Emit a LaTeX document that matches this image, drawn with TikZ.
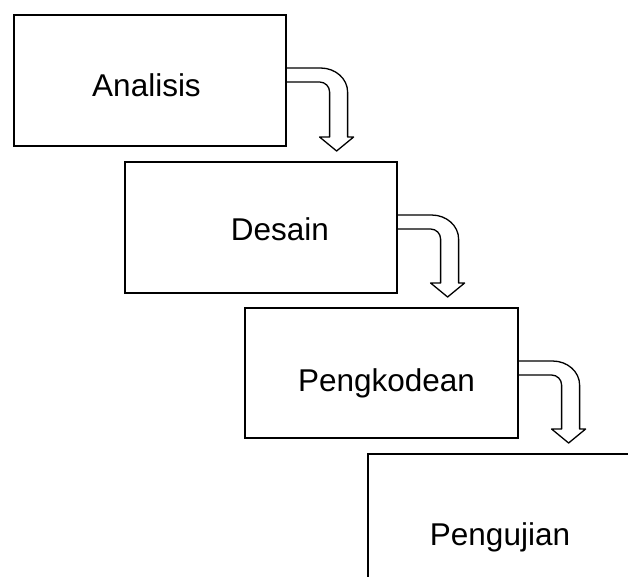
\documentclass[tikz,border=0pt]{standalone}
\usepackage{fontspec}
\setmainfont{Liberation Sans}
\usetikzlibrary{calc}

% Bent block arrow leaving the right side of #1 and pointing down onto #2
\newcommand\bendarrow[2]{%
  \draw[arrowline] let \p1=(#1.north east), \p2=(#2.north) in
    (\x1,\y1-54pt) -- (\x1+34pt,\y1-54pt)
    arc[start angle=90,end angle=0,x radius=27pt,y radius=24pt]
    -- (\x1+61pt,\y2+24pt) -- (\x1+67pt,\y2+24pt)
    -- (\x1+50pt,\y2+10pt)
    -- (\x1+33pt,\y2+24pt) -- (\x1+43pt,\y2+24pt)
    -- (\x1+43pt,\y1-78pt)
    arc[start angle=0,end angle=90,radius=10pt]
    -- (\x1,\y1-68pt);
}

\begin{document}
\begin{tikzpicture}[x=1pt,y=1pt,
  stagebox/.style={draw=black,line width=1.6pt,rectangle,anchor=north west,
    minimum width=272pt,minimum height=131pt,inner sep=0pt},
  arrowline/.style={draw=black,line width=1.3pt,line join=round},
  stagetext/.style={anchor=base,inner sep=0pt,font=\fontsize{31.5}{38}\selectfont}]
  \fill[white] (0,0) rectangle (628,-576);
  \useasboundingbox (0,0) rectangle (628,-576);
  \clip (0,0) rectangle (628,-576);

  % stage boxes
  \node[stagebox] (a1) at (13,-14) {};
  \node[stagebox] (a2) at (124,-161) {};
  \node[stagebox,minimum width=273pt,minimum height=130pt] (a3) at (244,-307) {};
  \node[stagebox] (a4) at (367,-453) {};

  % stage labels
  \node[stagetext] (t1) at (146.5,-96) {Analisis};
  \node[stagetext] (t2) at (280,-240.5) {Desain};
  \node[stagetext] (t3) at (386.5,-391) {Pengkodean};
  \node[stagetext] (t4) at (500,-545.5) {Pengujian};

  % flow between stages
  \bendarrow{a1}{a2}
  \bendarrow{a2}{a3}
  \bendarrow{a3}{a4}
\end{tikzpicture}
\end{document}
